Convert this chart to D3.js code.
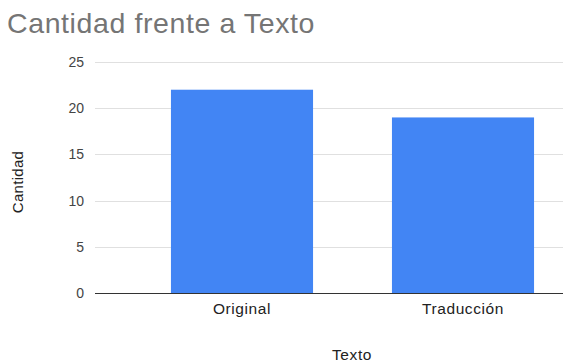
<!DOCTYPE html>
<html>
<head>
<meta charset="utf-8">
<script src="https://cdn.jsdelivr.net/npm/d3@7"></script>
<style>
  html, body { margin: 0; padding: 0; background: #fff; }
  svg { display: block; font-family: "Liberation Sans", Arial, sans-serif; }
</style>
</head>
<body>
<svg id="chart" width="563" height="364"></svg>
<script>
// Values per text version
const categories = ["Original", "Traducción"];
const values = [22, 19];
const yTicks = [0, 5, 10, 15, 20, 25];

const FONT = '"Liberation Sans", Arial, sans-serif';
const svg = d3.select("#chart");
const plot = { left: 95, right: 563, top: 62, bottom: 293 };

const y = d3.scaleLinear().domain([0, 25]).range([plot.bottom, plot.top]);
const x = d3.scaleBand()
  .domain(categories)
  .range([131.5, 573.5])
  .paddingInner(0.357)
  .paddingOuter(0.1785);

// Title
svg.append("text")
  .attr("x", 7).attr("y", 33)
  .attr("fill", "#757575")
  .attr("font-size", 28.5)
  .attr("letter-spacing", 0.6)
  .text("Cantidad frente a Texto");

// Horizontal gridlines
svg.append("g")
  .selectAll("line")
  .data(yTicks.filter(d => d !== 0))
  .join("line")
  .attr("x1", plot.left).attr("x2", plot.right)
  .attr("y1", d => Math.round(y(d)) + 0.5)
  .attr("y2", d => Math.round(y(d)) + 0.5)
  .attr("stroke", "#e0e0e0");

// Y axis labels
const yAxis = d3.axisLeft(y).tickValues(yTicks).tickSize(0).tickPadding(0);
const gy = svg.append("g").attr("transform", `translate(84,0)`).call(yAxis);
gy.select(".domain").remove();
gy.selectAll("text")
  .attr("fill", "#444")
  .attr("font-size", 14)
  .attr("font-family", FONT);

// Bars
svg.append("g")
  .selectAll("rect")
  .data(categories.map((c, i) => ({ c, v: values[i] })))
  .join("rect")
  .attr("x", d => x(d.c))
  .attr("width", x.bandwidth())
  .attr("y", d => y(d.v))
  .attr("height", d => y(0) - y(d.v))
  .attr("fill", "#4285f4");

// Baseline
svg.append("line")
  .attr("x1", plot.left).attr("x2", plot.right)
  .attr("y1", y(0) + 0.5).attr("y2", y(0) + 0.5)
  .attr("stroke", "#333");

// X axis labels
const xAxis = d3.axisBottom(x).tickSize(0).tickPadding(0);
const gx = svg.append("g").attr("transform", `translate(0,${plot.bottom})`).call(xAxis);
gx.select(".domain").remove();
gx.selectAll("text")
  .attr("dy", null)
  .attr("y", 21)
  .attr("fill", "#222")
  .attr("font-size", 15.5)
  .attr("letter-spacing", 0.6)
  .attr("font-family", FONT);

// Axis titles
svg.append("text")
  .attr("x", 352).attr("y", 360)
  .attr("text-anchor", "middle")
  .attr("fill", "#222")
  .attr("font-size", 15.5)
  .attr("letter-spacing", 0.6)
  .text("Texto");

svg.append("text")
  .attr("transform", "translate(23,182) rotate(-90)")
  .attr("text-anchor", "middle")
  .attr("fill", "#222")
  .attr("font-size", 15)
  .attr("letter-spacing", 0.3)
  .text("Cantidad");
</script>
</body>
</html>
